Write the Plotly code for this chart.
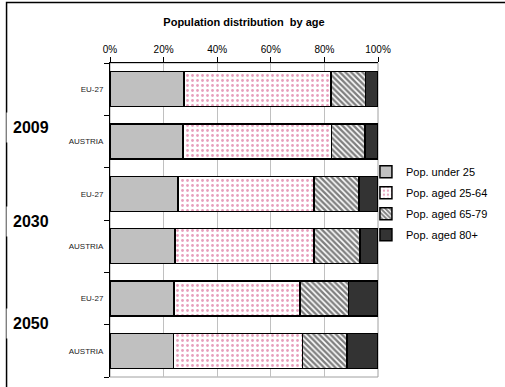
import plotly.graph_objects as go

# rows from top to bottom
regions = ["EU-27", "AUSTRIA", "EU-27", "AUSTRIA", "EU-27", "AUSTRIA"]
years = ["2009", "2030", "2050"]

under_25 = [27.7, 27.3, 25.3, 24.3, 23.9, 23.6]
aged_25_64 = [54.8, 55.4, 50.9, 51.9, 47.0, 48.2]
aged_65_79 = [12.9, 12.4, 16.8, 17.1, 18.0, 16.7]
aged_80 = [4.6, 4.9, 7.0, 6.7, 11.1, 11.5]

x_ticks = [0, 20, 40, 60, 80, 100]
x_labels = ["0%", "20%", "40%", "60%", "80%", "100%"]

rows = list(range(len(regions)))
FONT = "Liberation Sans, Arial, sans-serif"

fig = go.Figure()

series = [
    ("Pop. under 25", under_25, dict(color="#c0c0c0")),
    ("Pop. aged 25-64", aged_25_64,
     dict(color="white", pattern=dict(shape=".", fgcolor="#d0407a", bgcolor="white",
                                      size=5, solidity=0.25))),
    ("Pop. aged 65-79", aged_65_79,
     dict(color="white", pattern=dict(shape="\\", fgcolor="black", bgcolor="white",
                                      size=4, solidity=0.6))),
    ("Pop. aged 80+", aged_80, dict(color="#333333")),
]

for name, vals, mk in series:
    mk = dict(mk)
    mk["line"] = dict(color="black", width=1.5)
    fig.add_trace(go.Bar(
        name=name, y=rows, x=vals, orientation="h", width=0.67,
        marker=mk, legendgroup=name,
    ))

# year labels, sitting over the frame line on the left
year_pos = [0.73, 2.52, 4.47]
for yr, yp in zip(years, year_pos):
    fig.add_annotation(
        text="<b>" + yr + "</b>", x=-0.295, xref="paper", y=yp, yref="y",
        showarrow=False, font=dict(family=FONT, size=16, color="black"),
        bgcolor="white", xanchor="center", yanchor="middle", borderpad=6,
    )

# outer chart frame
fig.add_shape(type="rect", xref="paper", yref="paper",
              x0=-0.386, x1=2.5, y0=-0.3, y1=1.193,
              line=dict(color="black", width=1.5), layer="below")
# plot area border (gray, right and bottom)
fig.add_shape(type="rect", xref="x domain", yref="y domain",
              x0=0, x1=1, y0=0, y1=1,
              line=dict(color="#a0a0a0", width=1), layer="below")

fig.update_layout(
    width=505, height=387,
    margin=dict(l=110, r=127, t=63, b=10),
    barmode="stack",
    bargap=0.33,
    plot_bgcolor="white", paper_bgcolor="white",
    font=dict(family=FONT, color="black"),
    title=dict(text="<b>Population distribution  by age</b>", x=0.5, xref="paper",
               xanchor="center", y=1 - 22 / 387, yref="container", yanchor="middle",
               font=dict(family=FONT, size=11, color="black")),
    legend=dict(x=0.955, xanchor="left", y=0.70, yanchor="top",
                font=dict(family=FONT, size=11, color="black"),
                bgcolor="rgba(0,0,0,0)", traceorder="grouped", tracegroupgap=2),
    showlegend=True,
)

fig.update_xaxes(
    side="top", range=[0, 100], tickvals=x_ticks, ticktext=x_labels,
    ticks="outside", ticklen=5, tickcolor="black",
    showline=True, linecolor="black", linewidth=1,
    showgrid=True, gridcolor="#c0c0c0", gridwidth=1, zeroline=False,
    tickfont=dict(family=FONT, size=10, color="black"),
)
fig.update_yaxes(
    range=[5.5, -0.5], tickvals=rows, ticktext=regions, ticks="",
    showline=True, linecolor="black", linewidth=1,
    showgrid=False, zeroline=False, ticklabelstandoff=4,
    tickfont=dict(family=FONT, size=8, color="#222222"),
    minor=dict(tickvals=[r - 0.5 for r in rows] + [5.5], ticks="outside",
               ticklen=5, tickcolor="black", showgrid=False),
)

fig.write_html("out.html", config={"displayModeBar": False},
               post_script="document.body.style.margin='0';")
